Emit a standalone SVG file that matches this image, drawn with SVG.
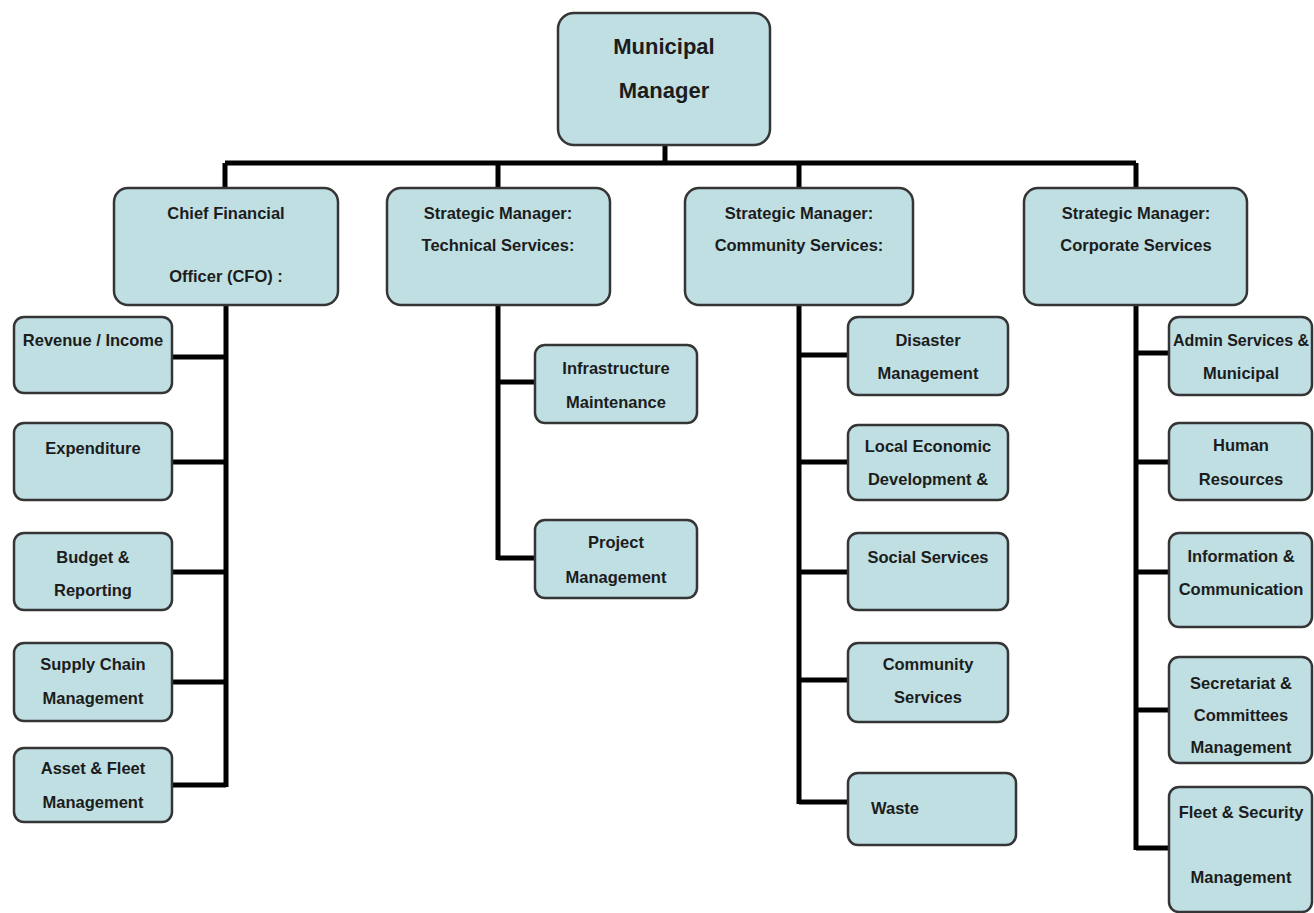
<svg xmlns="http://www.w3.org/2000/svg" width="1314" height="913" viewBox="0 0 1314 913">
<style>
.box{fill:#bfdfe3;stroke:#353535;stroke-width:2.5}
.t{font-family:"Liberation Sans",Arial,sans-serif;font-weight:bold;font-size:16.5px;fill:#1c1c1c;text-anchor:middle}
.l2{font-size:16.5px}
.title{font-size:22px}
.c{fill:none;stroke:#000;stroke-width:5}
</style>
<rect width="1314" height="913" fill="#fff"/>
<g id="connectors" class="c">
<path d="M665,145V163M225,163H1136M225,163V188M498,163V188M799,163V188M1136,163V188"/>
<path d="M226,305V787M172,357H226M172,462H226M172,572H226M172,682H226M172,785H226"/>
<path d="M498,305V560M498,382H535M498,558H535"/>
<path d="M799,305V804M799,355H848M799,462H848M799,572H848M799,680H848M799,802H848"/>
<path d="M1136,305V850M1136,353H1169M1136,462H1169M1136,572H1169M1136,710H1169M1136,848H1169"/>
</g>
<g id="municipal-manager"><rect class="box" x="558" y="13" width="212" height="132" rx="16"/><text class="t title" x="664" y="54">Municipal</text><text class="t title" x="664" y="98">Manager</text></g>
<g id="cfo"><rect class="box" x="114" y="188" width="224" height="117" rx="14"/><text class="t l2" x="226" y="219">Chief Financial</text><text class="t l2" x="226" y="282">Officer (CFO) :</text></g>
<g id="technical"><rect class="box" x="387" y="188" width="223" height="117" rx="14"/><text class="t l2" x="498" y="219">Strategic Manager:</text><text class="t l2" x="498" y="251">Technical Services:</text></g>
<g id="community"><rect class="box" x="685" y="188" width="228" height="117" rx="14"/><text class="t l2" x="799" y="219">Strategic Manager:</text><text class="t l2" x="799" y="251">Community Services:</text></g>
<g id="corporate"><rect class="box" x="1024" y="188" width="223" height="117" rx="14"/><text class="t l2" x="1136" y="219">Strategic Manager:</text><text class="t l2" x="1136" y="251">Corporate Services</text></g>

<g id="revenue"><rect class="box" x="14" y="317" width="158" height="76" rx="10"/><text class="t" x="93" y="346">Revenue / Income</text></g>
<g id="expenditure"><rect class="box" x="14" y="423" width="158" height="77" rx="10"/><text class="t" x="93" y="454">Expenditure</text></g>
<g id="budget"><rect class="box" x="14" y="533" width="158" height="77" rx="10"/><text class="t" x="93" y="563">Budget &amp;</text><text class="t" x="93" y="596">Reporting</text></g>
<g id="supply"><rect class="box" x="14" y="643" width="158" height="78" rx="10"/><text class="t" x="93" y="670">Supply Chain</text><text class="t" x="93" y="704">Management</text></g>
<g id="asset"><rect class="box" x="14" y="748" width="158" height="74" rx="10"/><text class="t" x="93" y="774">Asset &amp; Fleet</text><text class="t" x="93" y="808">Management</text></g>

<g id="infrastructure"><rect class="box" x="535" y="345" width="162" height="78" rx="10"/><text class="t" x="616" y="374">Infrastructure</text><text class="t" x="616" y="408">Maintenance</text></g>
<g id="project"><rect class="box" x="535" y="520" width="162" height="78" rx="10"/><text class="t" x="616" y="548">Project</text><text class="t" x="616" y="583">Management</text></g>

<g id="disaster"><rect class="box" x="848" y="317" width="160" height="78" rx="10"/><text class="t" x="928" y="346">Disaster</text><text class="t" x="928" y="379">Management</text></g>
<g id="led"><rect class="box" x="848" y="425" width="160" height="75" rx="10"/><text class="t" x="928" y="452">Local Economic</text><text class="t" x="928" y="485">Development &amp;</text></g>
<g id="social"><rect class="box" x="848" y="533" width="160" height="77" rx="10"/><text class="t" x="928" y="563">Social Services</text></g>
<g id="community-services"><rect class="box" x="848" y="643" width="160" height="79" rx="10"/><text class="t" x="928" y="670">Community</text><text class="t" x="928" y="703">Services</text></g>
<g id="waste"><rect class="box" x="848" y="773" width="168" height="72" rx="10"/><text class="t" x="871" y="814" text-anchor="start" style="text-anchor:start">Waste</text></g>

<g id="admin"><rect class="box" x="1169" y="317" width="143" height="78" rx="10"/><text class="t" x="1241" y="346" style="font-size:16px">Admin Services &amp;</text><text class="t" x="1241" y="379">Municipal</text></g>
<g id="hr"><rect class="box" x="1169" y="423" width="143" height="77" rx="10"/><text class="t" x="1241" y="451">Human</text><text class="t" x="1241" y="485">Resources</text></g>
<g id="ict"><rect class="box" x="1169" y="533" width="143" height="94" rx="10"/><text class="t" x="1241" y="562">Information  &amp;</text><text class="t" x="1241" y="595">Communication</text></g>
<g id="secretariat"><rect class="box" x="1169" y="657" width="143" height="106" rx="10"/><text class="t" x="1241" y="689">Secretariat &amp;</text><text class="t" x="1241" y="721">Committees</text><text class="t" x="1241" y="753">Management</text></g>
<g id="fleet-security"><rect class="box" x="1169" y="787" width="143" height="125" rx="10"/><text class="t" x="1241" y="818">Fleet &amp; Security</text><text class="t" x="1241" y="883">Management</text></g>
</svg>
